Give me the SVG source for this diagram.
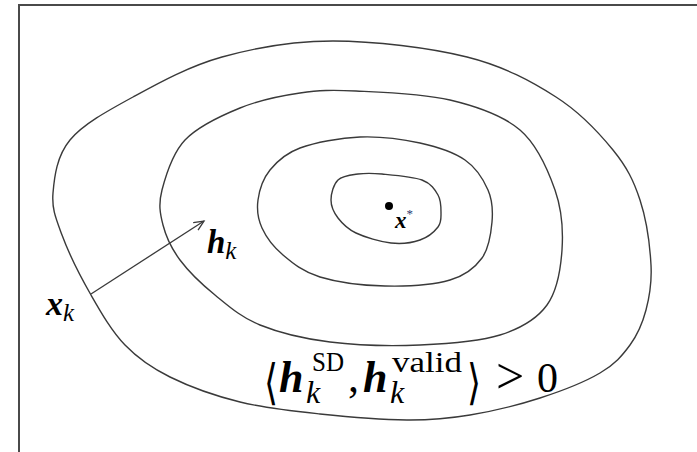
<svg xmlns="http://www.w3.org/2000/svg" width="697" height="452" viewBox="0 0 697 452">
<defs>
<style>
.contour{fill:none;stroke:#3a3a3a;stroke-width:1.4}
.m{font-family:"Liberation Serif","DejaVu Serif",serif;fill:#000}
.bi{font-weight:bold;font-style:italic}
.it{font-style:italic}
</style>
<marker id="ah" markerWidth="14" markerHeight="12" refX="11" refY="5" orient="auto" markerUnits="userSpaceOnUse">
<path d="M1,0.5 L11,5 L1,9.5" fill="none" stroke="#3a3a3a" stroke-width="1.3"/>
</marker>
</defs>
<rect x="0" y="0" width="697" height="452" fill="#fff"/>
<rect x="19" y="5" width="700" height="470" fill="none" stroke="#4a4a4a" stroke-width="2"/>
<g id="contour-outer">
<path class="contour" d="M333,41 C373.8,41 429.8,47.7 467,57 C504.2,66.3 531.7,81.5 556,97 C580.3,112.5 599,132.8 613,150 C627,167.2 633.7,180.8 640,200 C646.3,219.2 650,246.7 651,265 C652,283.3 649.5,296.7 646,310 C642.5,323.3 637.7,334.5 630,345 C622.3,355.5 615,364.2 600,373 C585,381.8 561.7,391 540,398 C518.3,405 492.2,411.3 470,415 C447.8,418.7 432,420.2 407,420 C382,419.8 347.8,417 320,414 C292.2,411 265,408.2 240,402 C215,395.8 189.2,386.5 170,377 C150.8,367.5 138.2,358.7 125,345 C111.8,331.3 101.5,313.3 91,295 C80.5,276.7 68.3,252 62,235 C55.7,218 51.7,208.8 53,193 C54.3,177.2 56.7,156 70,140 C83.3,124 107.7,110.8 133,97 C158.3,83.2 188.7,66.3 222,57 C255.3,47.7 292.2,41 333,41 Z"/>
</g>
<g id="contour-2">
<path class="contour" d="M356,91 C381,92.2 422.7,93.5 450,100 C477.3,106.5 502.5,115 520,130 C537.5,145 548,170 555,190 C562,210 563.3,230.8 562,250 C560.7,269.2 557.3,290.8 547,305 C536.7,319.2 521.2,328.3 500,335 C478.8,341.7 448.3,343.8 420,345 C391.7,346.2 356.7,345.3 330,342 C303.3,338.7 279.2,332.8 260,325 C240.8,317.2 228.3,305.8 215,295 C201.7,284.2 188.7,271.7 180,260 C171.3,248.3 166,236.7 163,225 C160,213.3 158.3,204.2 162,190 C165.7,175.8 172,153.7 185,140 C198,126.3 220.8,115.8 240,108 C259.2,100.2 280.7,95.8 300,93 C319.3,90.2 331,89.8 356,91 Z"/>
</g>
<g id="contour-3">
<path class="contour" d="M360,137 C380,136.2 402.5,139.2 420,143 C437.5,146.8 453.7,152.2 465,160 C476.3,167.8 483.5,179.7 488,190 C492.5,200.3 493,210.7 492,222 C491,233.3 489,248.3 482,258 C475,267.7 466.2,275.3 450,280 C433.8,284.7 406.7,286.5 385,286 C363.3,285.5 337,282.2 320,277 C303,271.8 292.7,263.2 283,255 C273.3,246.8 266.2,237.2 262,228 C257.8,218.8 256.7,209.7 258,200 C259.3,190.3 263,178.7 270,170 C277,161.3 285,153.5 300,148 C315,142.5 340,137.8 360,137 Z"/>
</g>
<g id="contour-inner">
<path class="contour" d="M382,174 C392.7,175 412.7,176.5 422,180 C431.3,183.5 434.8,189.5 438,195 C441.2,200.5 441,207.7 441,213 C441,218.3 441.5,222.5 438,227 C434.5,231.5 427.8,237.3 420,240 C412.2,242.7 401.7,244.2 391,243 C380.3,241.8 364.8,237.2 356,233 C347.2,228.8 342.2,223.5 338,218 C333.8,212.5 331,206.3 331,200 C331,193.7 333.5,184.3 338,180 C342.5,175.7 350.7,175 358,174 C365.3,173 371.3,173 382,174 Z"/>
</g>
<g id="optimum">
<circle cx="389" cy="206" r="4" fill="#000"/>
<text class="m" x="395" y="228" font-size="23" fill="#1c1c3c"><tspan class="it" font-weight="bold">x</tspan><tspan font-size="13" dy="-10" fill="#2a3a70">*</tspan></text>
</g>
<g id="connectors">
<line x1="91" y1="294" x2="204" y2="221" stroke="#3a3a3a" stroke-width="1.3" marker-end="url(#ah)"/>
</g>
<g id="label-xk">
<text class="m" x="46" y="315" font-size="34"><tspan class="bi">x</tspan><tspan class="it" font-size="25" dy="6">k</tspan></text>
</g>
<g id="label-hk">
<text class="m" x="207" y="253" font-size="33"><tspan class="bi">h</tspan><tspan class="it" font-size="25" dy="6">k</tspan></text>
</g>
<g id="label-inner-product">
<text class="m" font-size="36" transform="translate(264,399) scale(1,1.35)">⟨</text>
<text class="m" font-size="44">
<tspan class="bi" x="279" y="392">h</tspan>
<tspan class="it" x="306" y="403" font-size="32">k</tspan>
<tspan x="312" y="371" font-size="27" textLength="32" lengthAdjust="spacingAndGlyphs">SD</tspan>
<tspan x="348" y="392">,</tspan>
<tspan class="bi" x="363" y="392">h</tspan>
<tspan class="it" x="390" y="403" font-size="32">k</tspan>
<tspan x="392" y="372" font-size="29" textLength="70" lengthAdjust="spacingAndGlyphs">valid</tspan>
<tspan x="496" y="393" font-size="50">&gt;</tspan>
<tspan x="537" y="392" font-size="42">0</tspan>
</text>
<text class="m" font-size="36" transform="translate(467,399) scale(1,1.35)">⟩</text>
</g>
</svg>
